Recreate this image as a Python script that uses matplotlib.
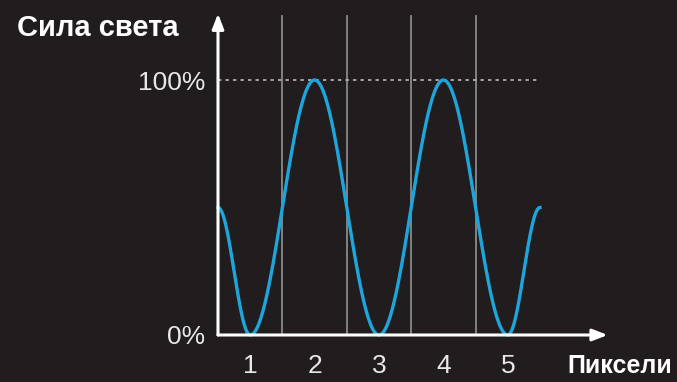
import matplotlib.pyplot as plt
import numpy as np

# данные: номера пикселей и яркость в их центрах
pixels = [1, 2, 3, 4, 5]
brightness = [0, 100, 0, 100, 0]
edge_level = 50            # уровень на краях (0.5 и 5.5)
y_ticks = [0, 100]
y_labels = ['0%', '100%']

BG = '#211d1e'
BLUE = '#1ea6dc'
GREY = '#8a8a8a'

plt.rcParams['font.family'] = ['Liberation Sans', 'DejaVu Sans']

fig = plt.figure(figsize=(6.77, 3.82), dpi=100, facecolor=BG)
W, H = 677, 382
ax = fig.add_axes([218 / W, (H - 335) / H, (540 - 218) / W, (335 - 80) / H])
ax.set_facecolor(BG)
ax.set_xlim(0.5, 5.5)
ax.set_ylim(0, 100)
for s in ax.spines.values():
    s.set_visible(False)

# плавная кривая через экстремумы (косинусная интерполяция между точками)
px = [0.5] + pixels + [5.5]
py = [edge_level] + brightness + [edge_level]
xs, ys = [], []
for i in range(len(px) - 1):
    t = np.linspace(0, 1, 60)
    w = (1 - np.cos(np.pi * t)) / 2
    xs.extend(px[i] + (px[i + 1] - px[i]) * t)
    ys.extend(py[i] + (py[i + 1] - py[i]) * w)

# границы пикселей
for b in np.arange(1.5, 5.0, 1.0):
    ax.plot([b, b], [0, 125], color=GREY, lw=1.3, clip_on=False, zorder=1)

ax.plot([0.5, 5.5], [100, 100], color='#bbbbbb', lw=1.2, ls=(0, (2, 2.5)),
        clip_on=False, zorder=1)
ax.plot(xs, ys, color=BLUE, lw=2.4, clip_on=False, zorder=3)

# оси со стрелками
arrow = dict(arrowstyle='-|>,head_length=0.9,head_width=0.35', color='white', lw=2.2,
             shrinkA=0, shrinkB=0)
ax.annotate('', xy=(6.55, 0), xytext=(0.5, 0), arrowprops=arrow, annotation_clip=False)
ax.annotate('', xy=(0.5, 126), xytext=(0.5, 0), arrowprops=arrow, annotation_clip=False)

ax.set_xticks(pixels)
ax.set_xticklabels([str(p) for p in pixels])
ax.set_yticks(y_ticks)
ax.set_yticklabels(y_labels)
ax.tick_params(length=0, colors='white', labelsize=19)
ax.tick_params(axis='x', pad=14)
ax.tick_params(axis='y', pad=9)
for lab in ax.get_xticklabels() + ax.get_yticklabels():
    lab.set_color('#e8e8e8')

fig.text(17 / W, 1 - 28 / H, 'Сила света', color='white', fontsize=21,
         fontweight='bold', va='center', ha='left')
fig.text(672 / W, 1 - 366 / H, 'Пиксели', color='white', fontsize=18,
         fontweight='bold', va='center', ha='right')

fig.savefig('out.png', dpi=100, facecolor=BG)
